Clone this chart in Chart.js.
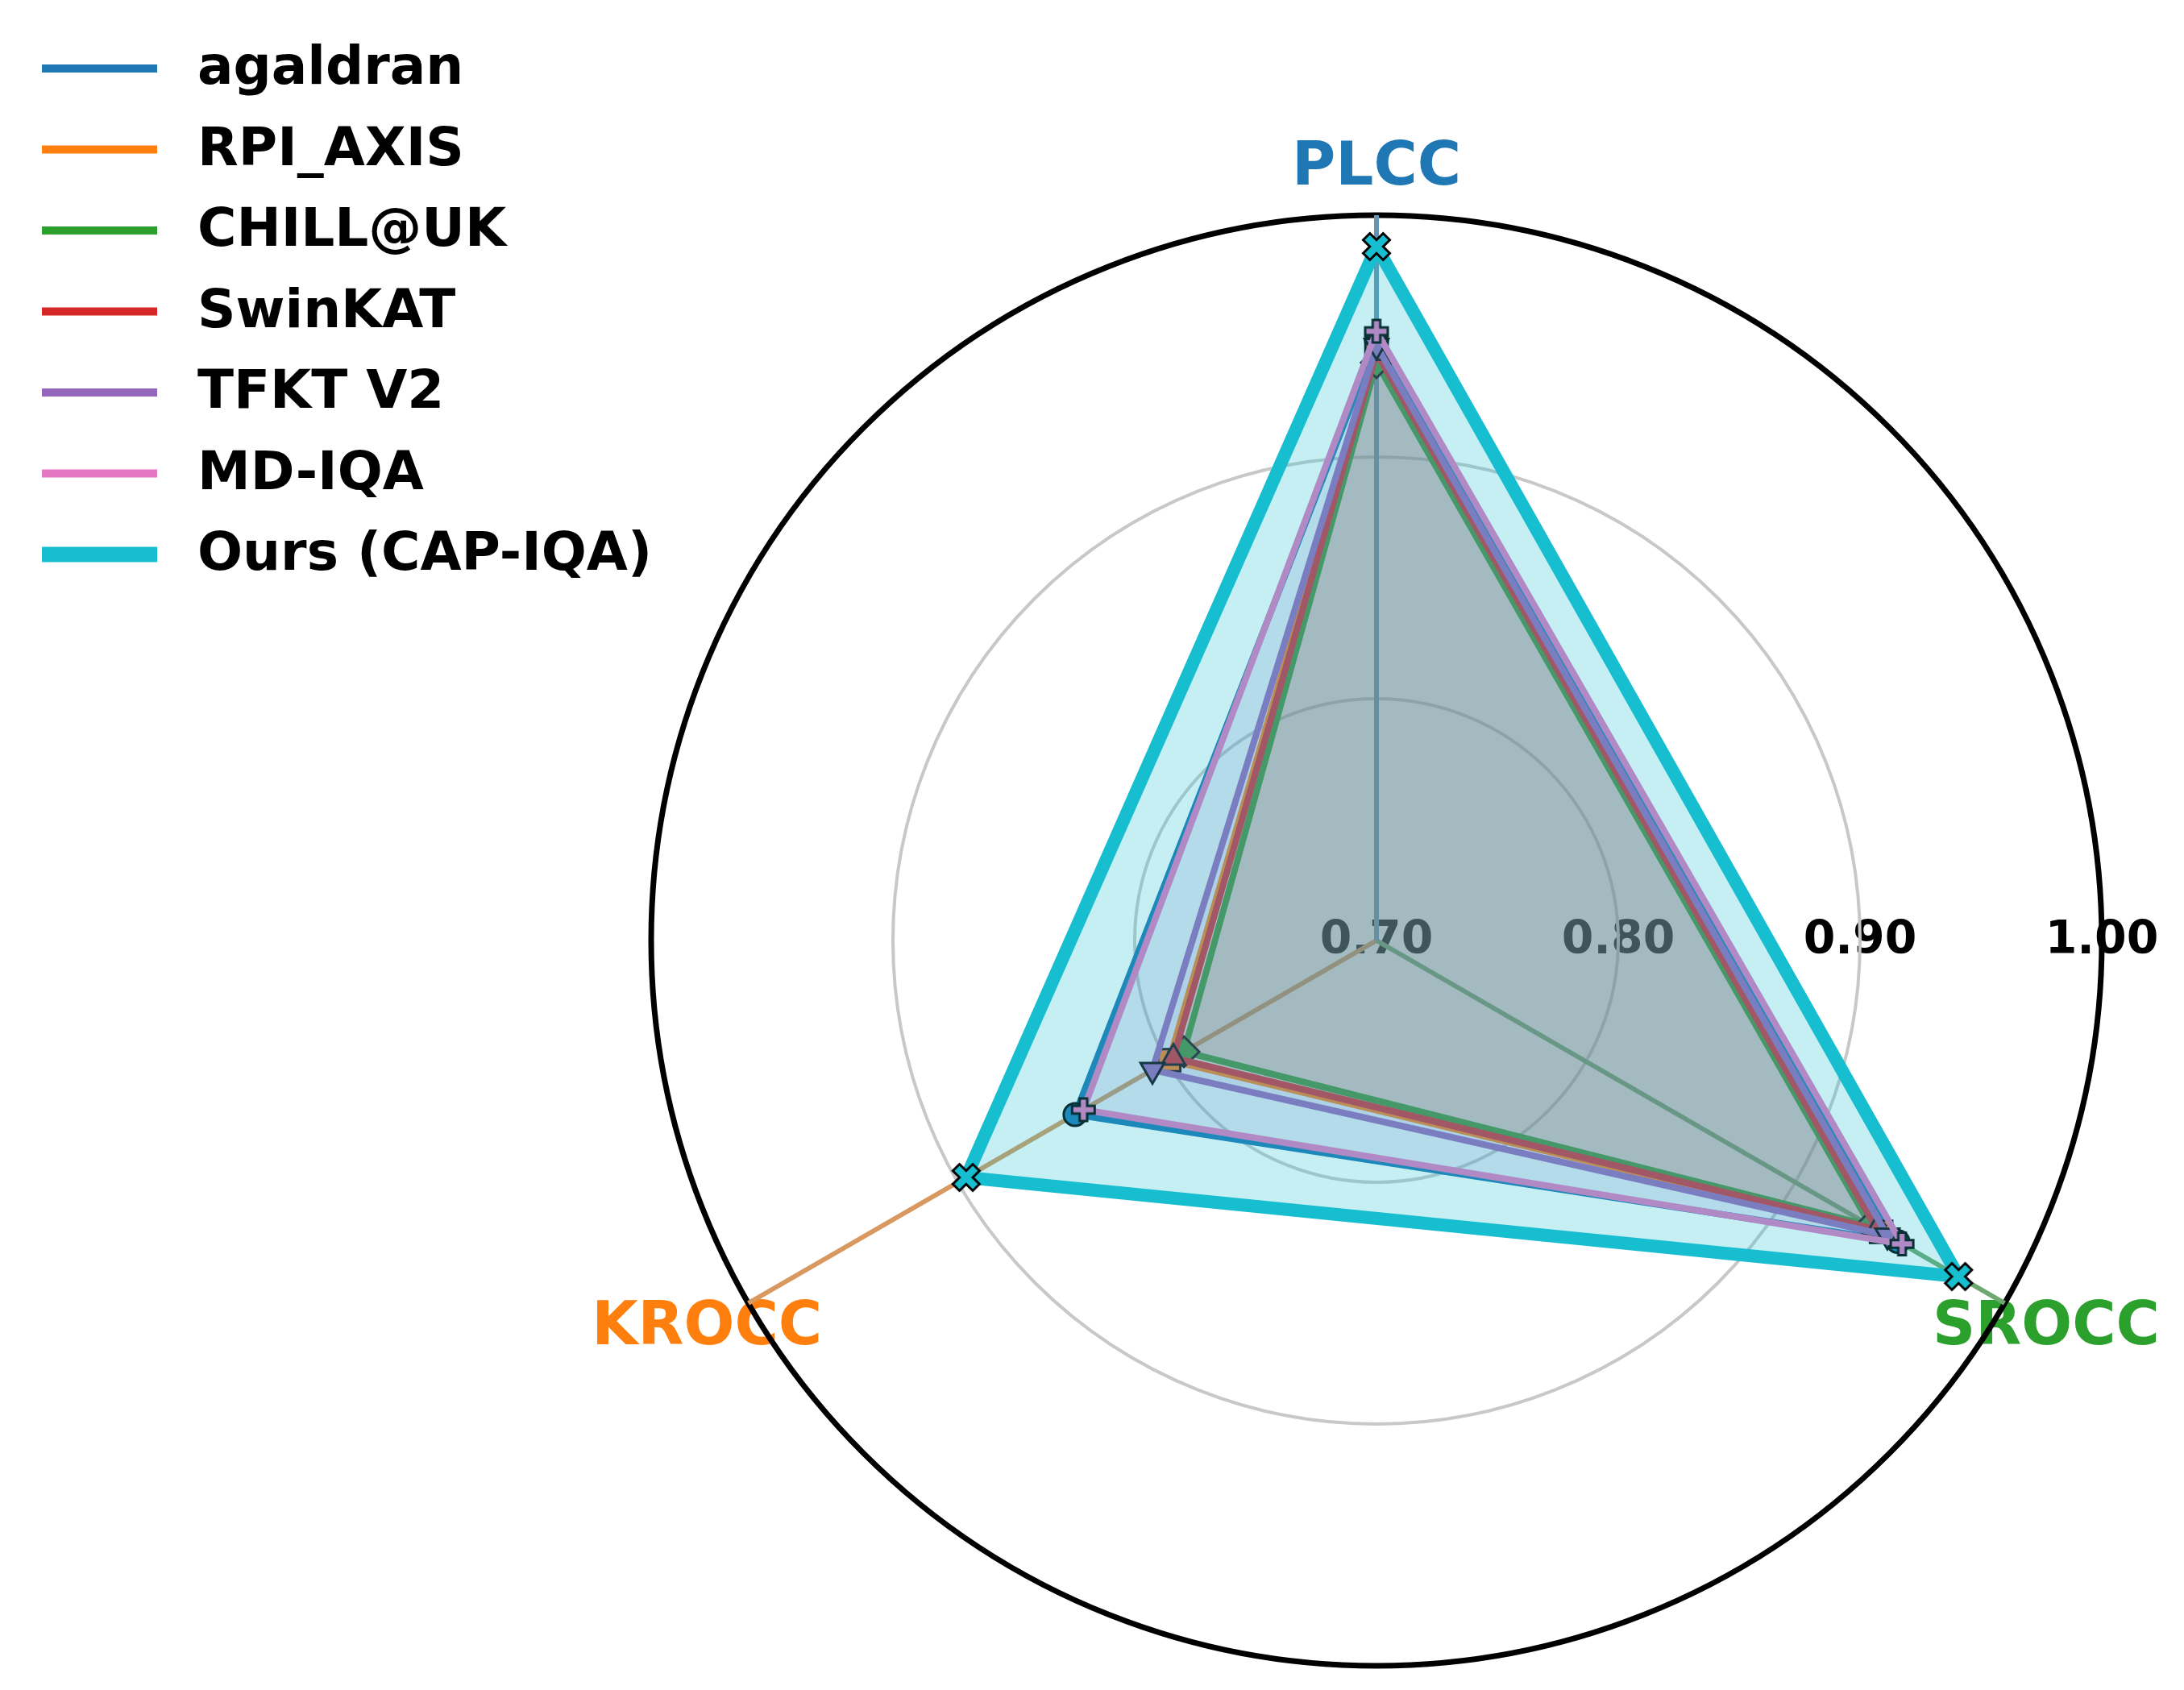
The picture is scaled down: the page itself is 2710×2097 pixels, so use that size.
<!DOCTYPE html>
<html><head><meta charset="utf-8">
<script src="https://cdn.jsdelivr.net/npm/chart.js@4/dist/chart.umd.min.js"></script>
<style>html,body{margin:0;padding:0;background:#fff;} canvas{display:block;}</style>
</head><body>
<canvas id="c" width="2710" height="2097"></canvas>
<script>
// ---------------- data ----------------
const axes = ['PLCC', 'SROCC', 'KROCC'];
const axisColors = ['#1f77b4', '#2ca02c', '#ff7f0e'];
const tickValues = [0.70, 0.80, 0.90, 1.00];
const tickLabels = ['0.70', '0.80', '0.90', '1.00'];
const methods = ['agaldran', 'RPI_AXIS', 'CHILL@UK', 'SwinKAT', 'TFKT V2', 'MD-IQA', 'Ours (CAP-IQA)'];
const agaldran = [0.948, 0.949, 0.844];
const rpiAxis  = [0.945, 0.941, 0.799];
const chillUK  = [0.939, 0.936, 0.792];
const swinKAT  = [0.943, 0.939, 0.797];
const tfktV2   = [0.946, 0.944, 0.807];
const mdIQA    = [0.952, 0.951, 0.840];
const ours     = [0.987, 0.978, 0.896];
const seriesValues = [agaldran, rpiAxis, chillUK, swinKAT, tfktV2, mdIQA, ours];
const colors = ['#1f77b4', '#ff7f0e', '#2ca02c', '#d62728', '#9467bd', '#e377c2', '#17becf'];

// ---------------- styling helpers ----------------
const FONT = '"DejaVu Sans", "Liberation Sans", sans-serif';
function rgba(hex, a) {
  const n = parseInt(hex.slice(1), 16);
  return `rgba(${(n >> 16) & 255},${(n >> 8) & 255},${n & 255},${a})`;
}
function makeMarker(pts, size, fill, lw) {
  const dim = Math.ceil(size + lw + 4);
  const cv = document.createElement('canvas');
  cv.width = dim; cv.height = dim;
  const g = cv.getContext('2d');
  g.translate(dim / 2, dim / 2);
  g.beginPath();
  pts.forEach((p, i) => { const x = p[0] * size, y = p[1] * size; i ? g.lineTo(x, y) : g.moveTo(x, y); });
  g.closePath();
  g.fillStyle = fill; g.fill();
  g.lineJoin = 'miter'; g.lineWidth = lw; g.strokeStyle = '#000'; g.stroke();
  return cv;
}
const plusShape = [[-1,-3],[-1,-1],[-3,-1],[-3,1],[-1,1],[-1,3],[1,3],[1,1],[3,1],[3,-1],[1,-1],[1,-3]].map(p => [p[0]/6, p[1]/6]);
const xShape = [[-1,-2],[0,-1],[1,-2],[2,-1],[1,0],[2,1],[1,2],[0,1],[-1,2],[-2,1],[-1,0],[-2,-1]].map(p => [p[0]/4, p[1]/4]);

const markerStyles = [
  {style: 'circle', radius: 14, rot: 0},
  {style: 'rect', radius: 19.5, rot: 0},
  {style: 'rectRot', radius: 19, rot: 0},
  {style: 'triangle', radius: 17, rot: 0},
  {style: 'triangle', radius: 17, rot: 180},
  {style: makeMarker(plusShape, 28, '#e377c2', 3), radius: 15, rot: 0},
  {style: makeMarker(xShape, 33, '#17becf', 3), radius: 18, rot: 0}
];
const lineWidths = [8, 8, 8, 8, 8, 8, 16];
const fillAlpha = [0.1, 0.1, 0.1, 0.1, 0.1, 0.1, 0.25];
const angleLineColors = ['#6894b2', '#6ea86e', '#d8985f'];

const datasets = methods.map((m, i) => ({
  label: m,
  data: seriesValues[i],
  borderColor: colors[i],
  backgroundColor: rgba(colors[i], fillAlpha[i]),
  borderWidth: lineWidths[i],
  borderJoinStyle: 'round',
  fill: true,
  pointStyle: markerStyles[i].style,
  pointRadius: markerStyles[i].radius,
  pointRotation: markerStyles[i].rot,
  pointBackgroundColor: colors[i],
  pointBorderColor: '#000',
  pointBorderWidth: 3,
  order: methods.length - 1 - i
}));

// ---------------- text (ticks, axis names, legend) ----------------
const textPlugin = {
  id: 'textPlugin',
  beforeDraw(chart) {
    const ctx = chart.ctx, s = chart.scales.r;
    ctx.save();
    ctx.textAlign = 'center';
    ctx.textBaseline = 'middle';
    ctx.font = `bold 57px ${FONT}`;
    ctx.fillStyle = '#000';
    tickValues.forEach((v, i) => {
      const x = s.xCenter + s.getDistanceFromCenterForValue(v);
      ctx.fillText(tickLabels[i], x, s.yCenter + 1);
    });
    ctx.font = `bold 74px ${FONT}`;
    axes.forEach((a, i) => {
      const p = s.getPointPosition(i, s.drawingArea * 1.066);
      ctx.fillStyle = axisColors[i];
      ctx.fillText(a, p.x, p.y + 2);
    });
    // legend
    ctx.textAlign = 'left';
    ctx.font = `bold 66px ${FONT}`;
    chart.data.datasets.forEach((d, i) => {
      const y = 85 + i * 100.5;
      ctx.beginPath();
      ctx.lineCap = 'butt';
      ctx.lineWidth = i === 6 ? 19 : 10;
      ctx.strokeStyle = d.borderColor;
      ctx.moveTo(52, y); ctx.lineTo(195, y);
      ctx.stroke();
      ctx.fillStyle = '#000';
      ctx.fillText(d.label, 245, y + 2);
    });
    ctx.restore();
  }
};

new Chart(document.getElementById('c'), {
  type: 'radar',
  data: { labels: axes, datasets },
  options: {
    responsive: false,
    animation: false,
    events: [],
    layout: { padding: { left: 808, right: 102, top: 267, bottom: 30 } },
    plugins: { legend: { display: false }, tooltip: { enabled: false } },
    elements: { line: { tension: 0 } },
    scales: {
      r: {
        min: 0.70,
        max: 1.00,
        beginAtZero: false,
        ticks: { display: false, stepSize: 0.1 },
        afterBuildTicks: (s) => { s.ticks = tickValues.map(v => ({ value: v })); },
        afterFit: (s) => {
          s.xCenter = Math.floor(s.left + s.width / 2);
          s.yCenter = Math.floor(s.top + s.height / 2);
          s.drawingArea = Math.min(s.width, s.height) / 2;
        },
        pointLabels: { display: false },
        grid: {
          circular: true,
          color: (c) => (c.index === tickValues.length - 1 ? '#000' : '#c8c8c8'),
          lineWidth: (c) => (c.index === tickValues.length - 1 ? 7 : 4)
        },
        angleLines: {
          color: (c) => angleLineColors[c.index],
          lineWidth: 6
        }
      }
    }
  },
  plugins: [textPlugin]
});
</script>
</body></html>
